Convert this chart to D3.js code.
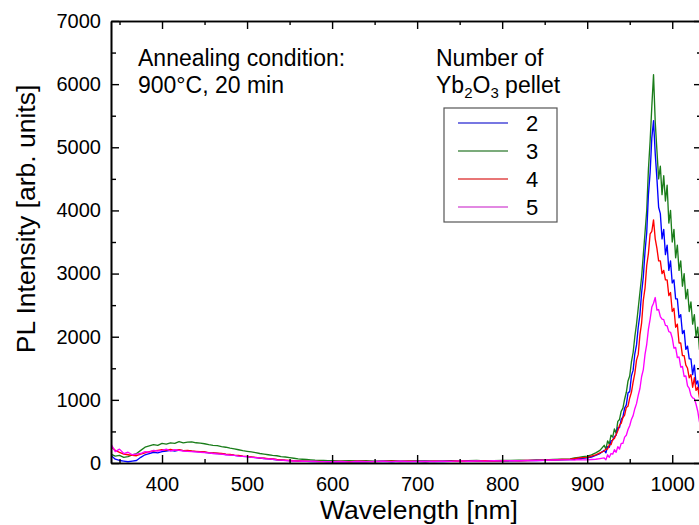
<!DOCTYPE html>
<html>
<head>
<meta charset="utf-8">
<script src="https://cdn.jsdelivr.net/npm/d3@7"></script>
<style>
  html, body { margin: 0; padding: 0; background: #fff; }
  svg { display: block; }
  text { font-family: "Liberation Sans", Arial, Helvetica, sans-serif; fill: #000; }
</style>
</head>
<body>
<svg id="chart" width="699" height="525"></svg>
<script>
// ---- data ----
const wavelengths = [
  ...d3.range(340, 600, 5),
  ...d3.range(600, 880, 10),
  ...d3.range(880, 920, 5),
  ...d3.range(920, 1036, 2)
];

const series2 = [ // blue
  120,60,40,30,20,30,40,90,130,150, 170,160,180,190,200,190,205,195,190,185,
  180,175,170,160,155,150,145,135,130,120, 115,105,100,92,85,78,72,66,60,52,
  48,42,38,34,30,28,26,24,23,22, 21,20,
  20,22,18,24,20,22,25,20,26,22, 24,20,26,24,28,25,28,30,28,32, 30,34,36,38,40,42,45,50,
  55,60,70,75,80,95,120,150,
  200,160,260,250,350,360,420,440,560,560, 690,730,870,920,1110,1130,1380,1470,1730,1870,
  2150,2350,2700,2950,3350,3650,4250,4600,5150,5420, 4900,4500,4050,3950,3550,3700,3300,3450,3050,3200,
  2850,2900,2600,2600,2300,2350,2050,2100,1800,1850, 1650,1650,1400,1550,1250,1300,1100,1250
];
const series3 = [ // green
  140,110,120,90,100,130,150,200,250,270, 290,280,310,300,320,310,340,320,330,335,
  320,315,305,290,280,275,260,250,235,225, 210,195,185,175,165,150,140,130,120,115,
  100,95,85,75,65,60,55,50,45,42, 40,38,
  36,34,38,32,35,30,33,36,30,34, 32,35,30,33,38,32,35,40,34,38, 42,40,45,42,48,50,55,60,
  65,80,90,100,110,130,160,200,
  280,220,350,300,440,410,540,470,660,690, 820,870,1010,1120,1300,1380,1600,1750,2000,2200,
  2450,2700,2950,3300,3650,4000,4650,5100,5650,6150, 5400,4950,4500,4700,4250,4550,4150,4400,3800,4000,
  3500,3700,3250,3450,3050,3200,2800,3000,2600,2750, 2400,2550,2200,2350,2000,2150,1800,1950
];
const series4 = [ // red
  260,200,170,140,130,120,115,140,160,180, 190,200,210,205,215,200,210,195,200,190,
  185,180,175,165,160,155,150,140,135,125, 120,110,105,95,90,80,75,70,65,55,
  50,45,40,35,32,30,28,26,25,24, 22,22,
  22,25,20,28,24,22,26,30,24,28, 25,22,30,26,28,32,27,30,35,30, 36,38,35,40,42,45,50,55,
  60,70,80,85,90,110,130,160,
  190,220,220,290,290,370,390,450,510,600, 630,720,760,880,900,1030,1120,1280,1420,1630,
  1720,2030,2220,2580,2770,3130,3320,3630,3670,3850, 3550,3400,3200,3200,3000,3050,2900,2900,2650,2700,
  2400,2450,2150,2200,1900,1900,1700,1700,1550,1500, 1350,1400,1200,1350,1150,1200,1030,1150
];
const series5 = [ // magenta
  300,180,220,150,170,130,140,150,180,170, 200,190,200,220,190,210,200,190,185,180,
  175,170,165,160,150,145,140,130,125,120, 110,105,100,90,85,80,70,65,60,50,
  45,40,35,32,30,28,26,25,24,22, 22,20,
  20,24,18,26,22,25,28,22,30,24, 26,28,24,30,26,34,28,32,30,36, 33,38,36,42,40,44,48,50,
  50,45,55,50,50,55,60,70,
  80,50,130,90,150,140,210,170,260,220, 310,310,410,440,530,590,690,750,860,940,
  1070,1180,1370,1480,1720,1880,2120,2280,2470,2530, 2620,2420,2430,2320,2280,2270,2180,2170,2080,2070,
  1980,1820,1830,1670,1680,1520,1530,1370,1380,1220, 1180,1070,1030,1020,930,820,650,800
];

const seriesNames = ["2", "3", "4", "5"];
const seriesColors = ["#0000ff", "#1a7d1a", "#ff0000", "#ff00ff"];
const legendColors = ["#4a4ad8", "#4f8f4f", "#e04848", "#d860d8"];
const xTicks = [400, 500, 600, 700, 800, 900, 1000];
const xMinorTicks = [350, 450, 550, 650, 750, 850, 950];
const yTicks = [0, 1000, 2000, 3000, 4000, 5000, 6000, 7000];
const yMinorTicks = [500, 1500, 2500, 3500, 4500, 5500, 6500];

// ---- layout ----
const svg = d3.select("#chart");
const pL = 111, pR = 702, pT = 21, pB = 463;

const x = d3.scaleLinear().domain([340, 1035]).range([pL, pR]);
const y = d3.scaleLinear().domain([0, 7000]).range([pB, pT]);

svg.append("defs").append("clipPath").attr("id", "plotclip")
  .append("rect").attr("x", pL).attr("y", pT).attr("width", pR - pL).attr("height", pB - pT);

// lines: draw green first, then blue, red, magenta
const allSeries = [series2, series3, series4, series5];
const order = [1, 0, 2, 3];
const line = d3.line().x(d => x(d[0])).y(d => y(d[1]));
const plot = svg.append("g").attr("clip-path", "url(#plotclip)");
order.forEach(i => {
  const pts = wavelengths.map((w, k) => [w, allSeries[i][k]]);
  plot.append("path").datum(pts)
    .attr("d", line)
    .attr("fill", "none")
    .attr("stroke", seriesColors[i])
    .attr("stroke-width", 1.35)
    .attr("stroke-linejoin", "round");
});

// axes
function styleAxis(g) {
  g.selectAll(".domain").attr("stroke", "#000").attr("stroke-width", 1.6);
  g.selectAll(".tick line").attr("stroke", "#000").attr("stroke-width", 1.4);
  g.selectAll(".tick text").attr("font-size", 20).attr("font-family", "Liberation Sans, Arial, sans-serif");
}

// left
svg.append("g").attr("transform", `translate(${pL},0)`)
  .call(d3.axisLeft(y).tickValues(yTicks).tickSize(-8).tickSizeOuter(0).tickPadding(10).tickFormat(d3.format("d")))
  .call(styleAxis);
svg.append("g").attr("transform", `translate(${pL},0)`)
  .call(d3.axisLeft(y).tickValues(yMinorTicks).tickSize(-5).tickSizeOuter(0).tickFormat(""))
  .call(styleAxis);
// right
svg.append("g").attr("transform", `translate(${pR},0)`)
  .call(d3.axisRight(y).tickValues(yTicks).tickSize(-8).tickSizeOuter(0).tickFormat(""))
  .call(styleAxis);
svg.append("g").attr("transform", `translate(${pR},0)`)
  .call(d3.axisRight(y).tickValues(yMinorTicks).tickSize(-5).tickSizeOuter(0).tickFormat(""))
  .call(styleAxis);
// bottom
svg.append("g").attr("transform", `translate(0,${pB})`)
  .call(d3.axisBottom(x).tickValues(xTicks).tickSize(-8).tickSizeOuter(0).tickPadding(14).tickFormat(d3.format("d")))
  .call(styleAxis);
svg.append("g").attr("transform", `translate(0,${pB})`)
  .call(d3.axisBottom(x).tickValues(xMinorTicks).tickSize(-4).tickSizeOuter(0).tickFormat(""))
  .call(styleAxis);
// top
svg.append("g").attr("transform", `translate(0,${pT})`)
  .call(d3.axisTop(x).tickValues(xTicks).tickSize(-8).tickSizeOuter(0).tickFormat(""))
  .call(styleAxis);
svg.append("g").attr("transform", `translate(0,${pT})`)
  .call(d3.axisTop(x).tickValues(xMinorTicks).tickSize(-4).tickSizeOuter(0).tickFormat(""))
  .call(styleAxis);

// axis titles
svg.append("text")
  .attr("x", 419).attr("y", 519)
  .attr("text-anchor", "middle")
  .attr("font-size", 26.5)
  .text("Wavelength [nm]");
svg.append("text")
  .attr("transform", "translate(35,219) rotate(-90)")
  .attr("text-anchor", "middle")
  .attr("font-size", 26.5)
  .text("PL Intensity [arb. units]");

// annotations
svg.append("text").attr("x", 138).attr("y", 66).attr("font-size", 23).text("Annealing condition:");
svg.append("text").attr("x", 138).attr("y", 93).attr("font-size", 23).text("900°C, 20 min");
svg.append("text").attr("x", 436).attr("y", 66).attr("font-size", 23).text("Number of");
const yb = svg.append("text").attr("x", 436).attr("y", 93).attr("font-size", 23);
yb.append("tspan").text("Yb");
yb.append("tspan").attr("font-size", 15).attr("dy", 5).text("2");
yb.append("tspan").attr("dy", -5).text("O");
yb.append("tspan").attr("font-size", 15).attr("dy", 5).text("3");
yb.append("tspan").attr("dy", -5).text(" pellet");

// legend
const lg = svg.append("g");
lg.append("rect").attr("x", 444).attr("y", 108).attr("width", 113).attr("height", 114)
  .attr("fill", "#fff").attr("stroke", "#555").attr("stroke-width", 1.2);
const rowY = d3.scalePoint().domain(seriesNames).range([123, 207]);
seriesNames.forEach((n, i) => {
  lg.append("line").attr("x1", 458).attr("x2", 508).attr("y1", rowY(n)).attr("y2", rowY(n))
    .attr("stroke", legendColors[i]).attr("stroke-width", 1.3);
  lg.append("text").attr("x", 532).attr("y", rowY(n)).attr("dy", "0.36em")
    .attr("text-anchor", "middle").attr("font-size", 22).text(n);
});
</script>
</body>
</html>
